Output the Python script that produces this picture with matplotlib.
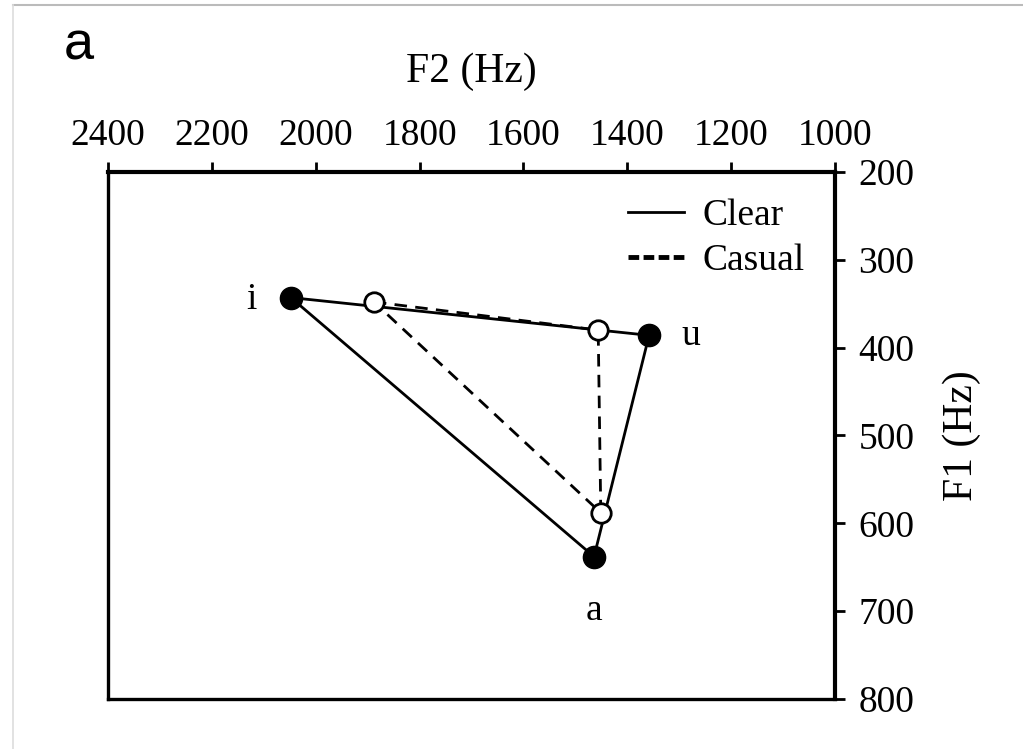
import matplotlib.pyplot as plt
from matplotlib.lines import Line2D

# vowel formants (Hz), order: i, u, a
vowels = ['i', 'u', 'a']
clear_f2 = [2048, 1358, 1464]
clear_f1 = [343, 386, 638]
casual_f2 = [1888, 1456, 1451]
casual_f1 = [348, 380, 588]

f2_ticks = [2400, 2200, 2000, 1800, 1600, 1400, 1200, 1000]
f1_ticks = [200, 300, 400, 500, 600, 700, 800]

serif = 'Liberation Serif'

fig = plt.figure(figsize=(10.23, 7.49), dpi=100)
ax = fig.add_axes([0.1056, 0.0668, 0.7106, 0.7036])

# close the triangles
cx = clear_f2 + clear_f2[:1]
cy = clear_f1 + clear_f1[:1]
sx = casual_f2 + casual_f2[:1]
sy = casual_f1 + casual_f1[:1]

ax.plot(cx, cy, color='black', lw=2, zorder=2)
ax.plot(sx, sy, color='black', lw=2, ls=(0, (4.5, 3)), zorder=2)
ax.plot(clear_f2, clear_f1, 'o', ms=16, color='black', zorder=3)
ax.plot(casual_f2, casual_f1, 'o', ms=14, mfc='white', mec='black', mew=2, zorder=4)

# vowel labels next to the clear points
ax.text(clear_f2[0] + 76, clear_f1[0] + 2, vowels[0], fontsize=27, family=serif,
        ha='center', va='center')
ax.text(clear_f2[1] - 80, clear_f1[1], vowels[1], fontsize=27, family=serif,
        ha='center', va='center')
ax.text(clear_f2[2], clear_f1[2] + 62, vowels[2], fontsize=27, family=serif,
        ha='center', va='center')

ax.set_xlim(2400, 1000)
ax.set_ylim(800, 200)
ax.xaxis.tick_top()
ax.xaxis.set_label_position('top')
ax.yaxis.tick_right()
ax.yaxis.set_label_position('right')
ax.set_xticks(f2_ticks)
ax.set_yticks(f1_ticks)
ax.tick_params(direction='out', length=7, width=2, labelsize=27)
ax.tick_params(axis='x', pad=7)
ax.tick_params(axis='y', pad=10)
for lab in ax.get_xticklabels() + ax.get_yticklabels():
    lab.set_family(serif)

for s in ['top', 'right']:
    ax.spines[s].set_linewidth(3)
for s in ['left', 'bottom']:
    ax.spines[s].set_linewidth(2.4)

ax.set_xlabel('F2 (Hz)', fontsize=30, family=serif, labelpad=26)
ax.set_ylabel('F1 (Hz)', fontsize=30, family=serif, labelpad=20, rotation=90)

handles = [Line2D([], [], color='black', lw=2),
           Line2D([], [], color='black', lw=3.5, ls=(0, (2.2, 0.9)))]
ax.legend(handles, ['Clear', 'Casual'], loc='upper right', frameon=False,
          prop={'family': serif, 'size': 27}, handlelength=1.5,
          handletextpad=0.5, labelspacing=0.3,
          bbox_to_anchor=(0.995, 1.0), borderaxespad=0.3)

fig.text(0.062, 0.92, 'a', fontsize=39, family='Liberation Sans',
         ha='left', va='baseline')

# thin grey frame at top and left of the figure
fig.add_artist(Line2D([13 / 1023, 1], [1 - 4.5 / 749, 1 - 4.5 / 749],
                      color='#bbbbbb', lw=1.5, transform=fig.transFigure))
fig.add_artist(Line2D([13 / 1023, 13 / 1023], [0, 1 - 4.5 / 749],
                      color='#dddddd', lw=1.2, transform=fig.transFigure))

fig.savefig('out.png', dpi=100)
